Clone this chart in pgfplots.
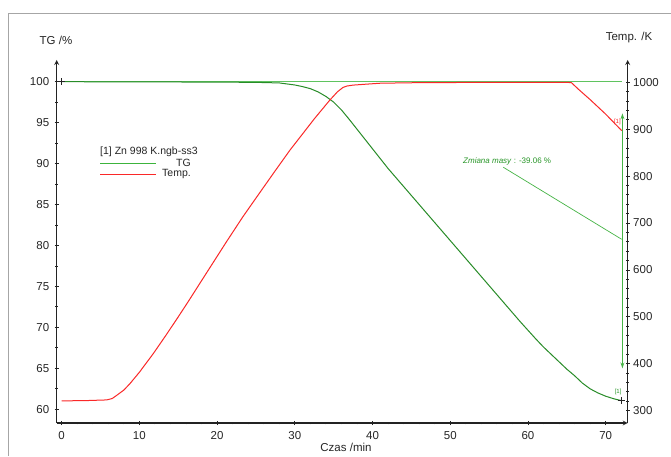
\documentclass[border=0pt]{standalone}
\usepackage{pgfplots}
\pgfplotsset{compat=1.18}
\usepackage{fontspec}
\setmainfont{Liberation Sans}
\usetikzlibrary{arrows.meta}
\definecolor{tgdark}{RGB}{40,140,40}
\definecolor{tglight}{RGB}{95,195,95}
\definecolor{annotgreen}{RGB}{70,180,70}
\definecolor{leggreen}{RGB}{60,180,60}
\definecolor{annottxt}{RGB}{40,150,40}
\definecolor{tred}{RGB}{250,40,40}
\definecolor{axcol}{RGB}{35,35,35}

\pgfplotsset{
 common/.style={
   at={(56.7pt,33pt)}, anchor=south west, scale only axis,
   width=571pt, height=363pt,
   xmin=-0.64, xmax=72.83,
   axis line style={axcol, line width=1.2pt, -},
   tick style={axcol, line width=0.9pt},
   major tick length=4pt, minor tick length=2.5pt,
   tick align=outside,
   ticklabel style={font=\fontsize{11.5}{12}\selectfont, text=black!85},
   /pgf/number format/assume math mode=true,
   /pgf/number format/1000 sep={},
   clip=false,
 }
}

\begin{document}
\begin{tikzpicture}
\useasboundingbox (0,0) rectangle (671pt,456pt);
\fill[white] (0,0) rectangle (671pt,456pt);
\draw[gray!70, line width=0.9pt] (8.6pt,0) -- (8.6pt,442.7pt) -- (671pt,442.7pt);

\begin{axis}[common, axis x line=bottom, axis y line=left,
  ymin=58.33, ymax=102.65, ytick={60,65,...,100}, minor y tick num=1,
  xtick={0,10,...,70}, minor x tick num=4,
  xticklabel style={yshift=-3pt}, yticklabel style={xshift=-2pt}]
\addplot[tglight, line width=1.4pt] coordinates {(0,100) (72.1,100)};
\addplot[tgdark, line width=1pt] coordinates {
(0,100) (10,99.98) (20,99.95) (25,99.92) (28,99.85) (30,99.6) (31,99.4)
(32,99.15) (33,98.75) (34,98.2) (35,97.5) (36,96.55) (37,95.4) (38,94.2)
(39,93.0) (40,91.8) (41,90.6) (42,89.4) (43,88.3) (45,86.1) (47,83.9)
(50,80.6) (53,77.3) (55,75.1) (57,72.9) (59,70.7) (61,68.6) (62,67.6)
(63,66.7) (64,65.8) (65,64.9) (66,64.1) (67,63.2) (68,62.5) (69,62.0)
(70,61.6) (71,61.3) (72.06,61.05)};
\addplot[only marks, mark=+, mark size=3.5pt, axcol, mark options={line width=0.8pt}]
  coordinates {(0,100) (72.06,61.05)};
\draw[annotgreen, line width=0.9pt, {Stealth[length=6pt,width=4pt,open]}-{Stealth[length=6pt,width=4pt,open]}]
  (axis cs:72.15,96.14) -- (axis cs:72.15,65.0);
\draw[annotgreen, line width=0.7pt] (axis cs:56.83,89.55) -- (axis cs:72.05,80.76);
\node[anchor=west, inner sep=0pt, font=\fontsize{8}{9}\selectfont, text=annottxt]
  at (axis cs:51.64,90.23) {\textit{Zmiana masy} : -39.06 \%};
\node[inner sep=0pt, font=\fontsize{6}{6}\selectfont, text=tred] at (axis cs:71.5,95.1) {[1]};
\node[inner sep=0pt, font=\fontsize{6}{6}\selectfont, text=annottxt] at (axis cs:71.6,62.15) {[1]};
\end{axis}

\begin{axis}[common, axis y line=right, axis x line=none,
  ymin=273.8, ymax=1047.5, ytick={300,400,...,1000}, minor y tick num=4]
\addplot[tred, line width=1pt] coordinates {
(0,321) (3,321.5) (5.8,323) (6.5,326) (7.1,333) (8,344) (8.8,358) (10,382)
(11.8,422) (13.3,458) (14.8,495) (16.3,533) (17.8,572) (19.5,616) (21.2,660)
(23.3,713) (25.5,765) (27.5,812) (29.4,856) (31,890) (32.5,922) (34.5,962)
(35.5,980) (36.2,989) (36.7,992) (37.5,994) (39.2,996) (41,998) (45,999)
(50,999.5) (60,1000) (65,1000) (65.6,999) (66.5,985) (68,963) (70,932)
(71,915) (72.06,897)};
\end{axis}

% axis titles
\node[font=\fontsize{11.5}{12}\selectfont, text=black!85] at (56pt,416pt) {TG /\%};
\node[font=\fontsize{11.5}{12}\selectfont, text=black!85] at (629pt,418pt) {Temp. /K};
\node[font=\fontsize{11.5}{12}\selectfont, text=black!85] at (346pt,9pt) {Czas /min};

% legend
\node[anchor=west, inner sep=0pt, font=\fontsize{10.5}{11}\selectfont, text=black!85] at (100pt,304.3pt) {[1] Zn 998 K.ngb-ss3};
\draw[leggreen, line width=1.3pt] (100pt,292.7pt) -- (156pt,292.7pt);
\draw[tred, line width=1.1pt] (100pt,281.7pt) -- (156pt,281.7pt);
\node[anchor=east, inner sep=0pt, font=\fontsize{10.5}{11}\selectfont, text=black!85] at (191pt,292.7pt) {TG};
\node[anchor=east, inner sep=0pt, font=\fontsize{10.5}{11}\selectfont, text=black!85] at (191pt,281.7pt) {Temp.};
\end{tikzpicture}
\end{document}
